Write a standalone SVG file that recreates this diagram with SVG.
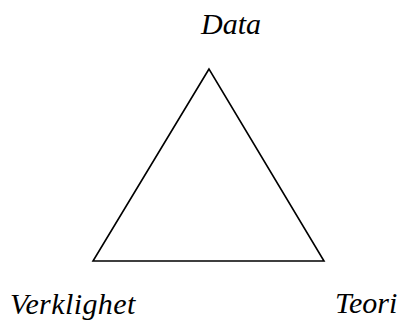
<svg xmlns="http://www.w3.org/2000/svg" width="405" height="320" viewBox="0 0 405 320">
  <style>
    .lbl { font-family: "Liberation Serif", "Times New Roman", serif; font-style: italic; font-size: 30px; fill: #000; }
    .edge { fill: none; stroke: #000; stroke-width: 1.6; stroke-linejoin: miter; }
  </style>
  <rect width="405" height="320" fill="#fff"/>
  <g id="connectors">
    <polygon class="edge" points="209,69 93,261 324,261"/>
  </g>
  <g id="node-data">
    <text class="lbl" x="231" y="34" text-anchor="middle">Data</text>
  </g>
  <g id="node-verklighet">
    <text class="lbl" x="10" y="314" letter-spacing="0.4">Verklighet</text>
  </g>
  <g id="node-teori">
    <text class="lbl" x="335" y="313">Teori</text>
  </g>
</svg>
